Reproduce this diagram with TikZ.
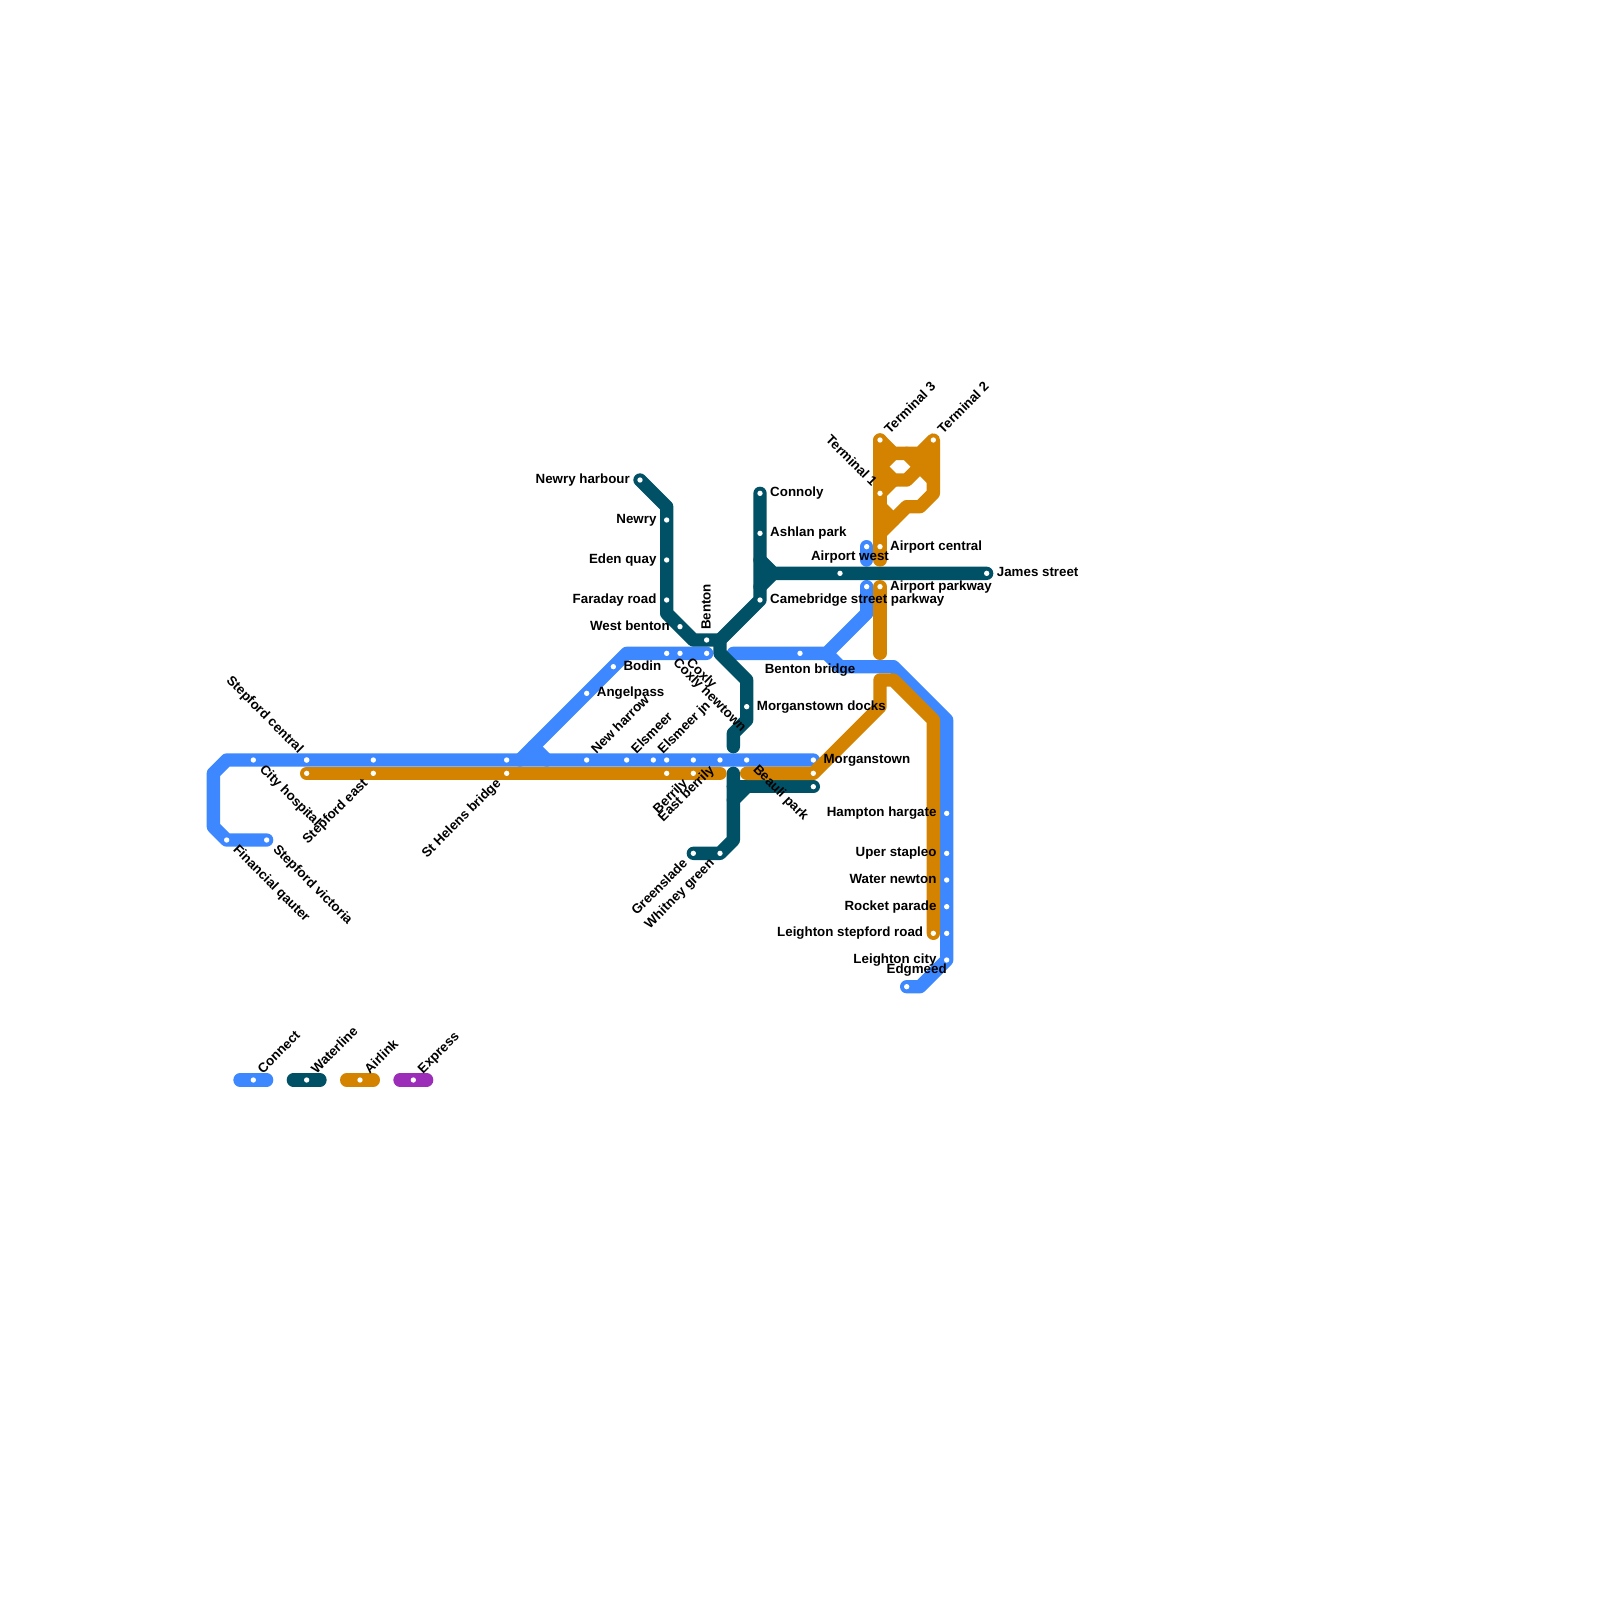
\documentclass[tikz,border=0pt]{standalone}
\usepackage{fontspec}
\setmainfont{Liberation Sans}
\usetikzlibrary{positioning, backgrounds}
\definecolor{connectblue}{HTML}{3D88FF}
\definecolor{waterteal}{HTML}{005066}
\definecolor{airorange}{HTML}{D38300}
\definecolor{expresspurple}{HTML}{9B2DB9}
\tikzset{
    lineseg/.style={line width=0.4cm, line cap=round, line join=round},
    connect/.style={lineseg, connectblue},
    waterline/.style={lineseg, waterteal},
    airlink/.style={lineseg, airorange},
    express/.style={lineseg, expresspurple},
    stop/.style={circle, fill=white, inner sep=0pt, minimum size=0.16cm},
    stoptext/.style={inner sep=0pt, font=\fontsize{11.38pt}{13pt}\selectfont\bfseries, text=black},
    textright/.style={stoptext, anchor=base west, xshift=0.3cm, yshift=-0.1cm},
    textleft/.style={stoptext, anchor=base east, xshift=-0.3cm, yshift=-0.1cm},
    textne/.style={stoptext, anchor=base west, xshift=0.29cm, yshift=0.17cm, rotate=45},
    textse/.style={stoptext, anchor=base west, xshift=0.17cm, yshift=-0.3cm, rotate=-45},
    textnw/.style={stoptext, anchor=base east, xshift=-0.25cm, yshift=0.18cm, rotate=-45},
    textsw/.style={stoptext, anchor=base east, xshift=-0.15cm, yshift=-0.32cm, rotate=45},
    textup/.style={stoptext, anchor=base, xshift=0.3cm, yshift=0.4cm},
    textdown/.style={stoptext, anchor=base, xshift=0.3cm, yshift=-0.6cm},
    textbenton/.style={stoptext, anchor=base west, xshift=0.12cm, yshift=0.3cm, rotate=90},
}
\begin{document}
\begin{tikzpicture}[x=0.4cm, y=-0.4cm]
    \useasboundingbox (0,0) rectangle (120,120);
    % Stops without text
    \foreach \n/\x/\y in {bcs/23/57, bse/28/57, bsh/38/57, be1/50/57, be2/52/57, obe/50/58,
        obs/23/58, ose/61/58, wmo/61/59, bap/65/44, baw/65/41, bl70/71/70, bbl/53/49}
        \node[stop] (\n) at (\x,\y) {};
    % Stops with text on the right
    \foreach \n/\x/\y/\t in {james/74/43/James street, aircentral/66/41/Airport central,
        airparkway/66/44/Airport parkway, camebridge/57/45/Camebridge street parkway,
        docks/56/53/Morganstown docks, connoly/57/37/Connoly, ashlan/57/40/Ashlan park,
        bodin/46/50/Bodin, angelpass/44/52/Angelpass, morganstown/61/57/Morganstown}
        {\node[stop] (\n) at (\x,\y) {};
         \node[textright] (\n text) at (\n.center) {\t};}
    % Stops with text on the left
    \foreach \n/\x/\y/\t in {hampton/71/61/Hampton hargate, uper/71/64/Uper stapleo,
        water/71/66/Water newton, rocket/71/68/Rocket parade, lcity/71/72/Leighton city,
        lroad/70/70/Leighton stepford road, harbour/48/36/Newry harbour, newry/50/39/Newry,
        eden/50/42/Eden quay, faraday/50/45/Faraday road, westbenton/51/47/West benton}
        {\node[stop] (\n) at (\x,\y) {};
         \node[textleft] (\n text) at (\n.center) {\t};}
    % Stops with slanted text
    \foreach \n/\x/\y/\t in {harrow/44/57/New harrow, elsmeer/47/57/Elsmeer, elsjn/49/57/Elsmeer jn,
        term3/66/33/Terminal 3, term2/70/33/Terminal 2}
        {\node[stop] (\n) at (\x,\y) {};
         \node[textne] (\n text) at (\n.center) {\t};}
    \foreach \n/\x/\y/\t in {beauli/56/57/Beauli park, coxly/51/49/Coxly, coxlynew/50/49/Coxly newtown,
        cityhosp/19/57/City hospital, financial/17/63/Financial qauter, stepvic/20/63/Stepford victoria}
        {\node[stop] (\n) at (\x,\y) {};
         \node[textse] (\n text) at (\n.center) {\t};}
    \foreach \n/\x/\y/\t in {stepcentral/23/57/Stepford central, term1/66/37/Terminal 1}
        {\node[stop] (\n) at (\x,\y) {};
         \node[textnw] (\n text) at (\n.center) {\t};}
    \foreach \n/\x/\y/\t in {stepeast/28/58/Stepford east, helens/38/58/St Helens bridge, berrily/52/58/Berrily,
        eastberrily/54/57/East berrily, greenslade/52/64/Greenslade, whitney/54/64/Whitney green}
        {\node[stop] (\n) at (\x,\y) {};
         \node[textsw] (\n text) at (\n.center) {\t};}
    % Stops with text over or under them
    \node[stop] (airwest) at (63,43) {};
    \node[textup] (airwest text) at (airwest.center) {Airport west};
    \node[stop] (edgmeed) at (68,74) {};
    \node[textup] (edgmeed text) at (edgmeed.center) {Edgmeed};
    \node[stop] (bentonbr) at (60,49) {};
    \node[textdown] (bentonbr text) at (bentonbr.center) {Benton bridge};
    \node[stop] (benton) at (53,48) {};
    \node[textbenton] (benton text) at (benton.center) {Benton};
    % Legend
    \foreach \n/\x/\t in {lconnect/19/Connect, lwater/23/Waterline, lair/27/Airlink, lexpress/31/Express}
        {\node[stop] (\n) at (\x,81) {};
         \node[textne] (\n text) at (\n.center) {\t};}
    \begin{scope}[on background layer]
        % Connect
        \draw[connect] (stepvic.center) -- (financial.center) -- (16,62) -- (16,58) -- (17,57) -- (morganstown.center);
        \draw[connect] (bbl.center) -- (47,49) -- (39,57);
        \draw[connect] (40,56) -- (41,57);
        \draw[connect] (55,49) -- (bentonbr.center) -- (62,49) -- (65,46) -- (bap.center);
        \draw[connect] (62,49) -- (63,50) -- (67,50) -- (71,54) -- (lcity.center) -- (69,74) -- (edgmeed.center);
        \draw[connect] (baw.center) -- (65,42);
        % Waterline
        \draw[waterline] (harbour.center) -- (50,38) -- (50,46) -- (52,48) -- (54,48);
        \draw[waterline] (connoly.center) -- (camebridge.center) -- (54,48) -- (54,49) -- (56,51) -- (56,54) -- (55,55) -- (55,56);
        \draw[waterline] (57,42) -- (58,43) -- (james.center);
        \draw[waterline] (57,44) -- (58,43);
        \draw[waterline] (greenslade.center) -- (whitney.center) -- (55,63) -- (55,58);
        \draw[waterline] (55,59) -- (wmo.center);
        \draw[waterline] (55,60) -- (56,59);
        % Airlink
        \draw[airlink] (obs.center) -- (54,58);
        \draw[airlink] (56,58) -- (ose.center) -- (66,53) -- (66,51) -- (67,51) -- (70,54) -- (lroad.center);
        \draw[airlink] (airparkway.center) -- (66,49);
        \draw[airlink] (term3.center) -- (66,42);
        \draw[airlink] (term3.center) -- (67,34) -- (69,34) -- (term2.center) -- (70,37) -- (69,38) -- (68,38) -- (66,40);
        \draw[airlink] (66,35) -- (67,34);
        \draw[airlink] (66,35) -- (67,36) -- (68,36) -- (70,34);
        \draw[airlink] (term1.center) -- (67,36);
        \draw[airlink] (68,34) -- (70,36);
        \draw[airlink] (66,38) -- (67,39);
        % Legend bars
        \draw[connect] (18,81) -- (20,81);
        \draw[waterline] (22,81) -- (24,81);
        \draw[airlink] (26,81) -- (28,81);
        \draw[express] (30,81) -- (32,81);
    \end{scope}
\end{tikzpicture}
\end{document}
